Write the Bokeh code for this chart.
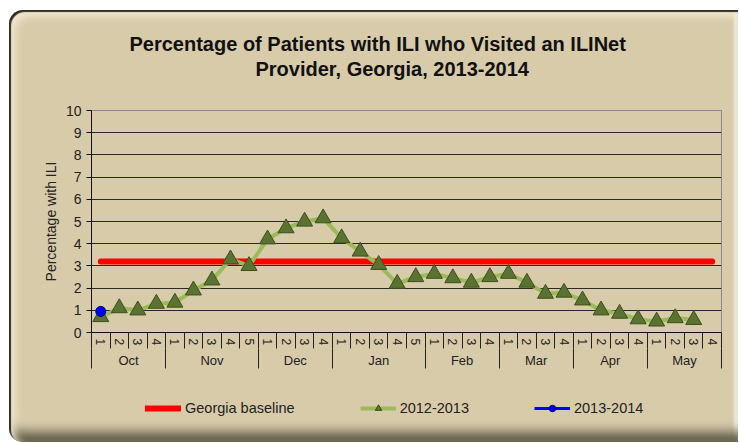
from bokeh.plotting import figure
from bokeh.layouts import column
from bokeh.models import (Range1d, LinearAxis, FixedTicker, Legend,
                          LegendItem, ColumnDataSource, Title)
from bokeh.embed import file_html
from bokeh.resources import INLINE

# ---------------- data ----------------
months = ["Oct", "Nov", "Dec", "Jan", "Feb", "Mar", "Apr", "May"]
weeks_per_month = [4, 5, 4, 5, 4, 4, 4, 4]
ili_2012_2013 = [0.7, 1.1, 1.0, 1.3,
                 1.35, 1.9, 2.35, 3.3, 3.0,
                 4.2, 4.7, 5.0, 5.15,
                 4.25, 3.65, 3.05, 2.2, 2.5,
                 2.65, 2.45, 2.25, 2.5,
                 2.65, 2.25, 1.75, 1.8,
                 1.45, 1.0, 0.85, 0.6,
                 0.5, 0.65, 0.57]
ili_2013_2014 = [0.95]
georgia_baseline = 3.2
y_ticks = list(range(0, 11))
title_lines = ["Percentage of Patients with ILI who Visited an ILINet",
               "Provider, Georgia, 2013-2014"]
series_names = ["Georgia baseline", "2012-2013", "2013-2014"]

FONT = "Liberation Sans"
TAN = "#D8CBAA"
RED, GREEN, MARKER, MARKER_LINE, BLUE = "#FF0000", "#9BBB59", "#5B7330", "#3D4F1E", "#0000FF"

# week categories (month, week) -> index positions on the category scale
factors = [(m, str(w)) for m, n in zip(months, weeks_per_month) for w in range(1, n + 1)]
n_f = len(factors)
week_centers = [i + 0.5 for i in range(n_f)]
week_bounds = list(range(n_f + 1))

p = figure(frame_width=630, frame_height=222, x_range=Range1d(0, n_f), y_range=Range1d(0, 10),
           x_axis_location=None, output_backend="svg", toolbar_location=None,
           min_border_left=82, min_border_right=17, min_border_top=100,
           min_border_bottom=40)

p.border_fill_color = None
p.background_fill_color = None
p.outline_line_color = "#8a8a8a"
p.outline_line_width = 1
p.xgrid.visible = False

# title (two centred lines) + spacer above the frame
p.title.text = title_lines[0]
p.title.align = "left"
p.title.offset = 38
p.title.text_font = FONT
p.title.text_font_size = "20px"
p.title.text_font_style = "bold"
p.title.text_color = "#111111"
p.title.standoff = 0
t2 = Title(text=title_lines[1], align="left", offset=164, text_font=FONT,
           text_font_size="20px", text_font_style="bold", text_color="#111111",
           standoff=2)
spacer = Title(text=" ", text_font_size="1px", standoff=27)
p.add_layout(spacer, "above")
p.add_layout(t2, "above")

# y axis
yax = p.yaxis[0]
yax.ticker = FixedTicker(ticks=y_ticks)
yax.axis_label = "Percentage with ILI"
yax.axis_label_text_font = FONT
yax.axis_label_text_font_size = "14px"
yax.axis_label_text_font_style = "normal"
yax.axis_label_text_color = "#222222"
yax.axis_label_standoff = 4
yax.major_label_text_font = FONT
yax.major_label_text_font_size = "14px"
yax.major_label_text_color = "#222222"
yax.major_label_standoff = 5
yax.major_tick_out = 5
yax.major_tick_in = 0
yax.minor_tick_line_color = None
yax.axis_line_color = "#111111"
yax.major_tick_line_color = "#111111"

p.ygrid.grid_line_color = "#2a2a2a"
p.ygrid.grid_line_width = 1
p.ygrid.ticker = FixedTicker(ticks=y_ticks)

# x axes (weeks + months)
week_labels = {c: f[1] for c, f in zip(week_centers, factors)}

month_bounds = [0]
for n in weeks_per_month:
    month_bounds.append(month_bounds[-1] + n)
month_centers = [(a + b) / 2 for a, b in zip(month_bounds[:-1], month_bounds[1:])]
month_labels = {c: m for c, m in zip(month_centers, months)}

ax_w = LinearAxis(ticker=FixedTicker(ticks=week_centers, minor_ticks=week_bounds),
                  major_label_overrides=week_labels)
ax_w.major_tick_line_color = None
ax_w.major_tick_out = 0
ax_w.major_tick_in = 0
ax_w.minor_tick_out = 16
ax_w.minor_tick_in = 0
ax_w.minor_tick_line_color = "#222222"
ax_w.axis_line_color = "#111111"
ax_w.major_label_orientation = "vertical"
ax_w.major_label_standoff = -10
ax_w.major_label_text_font = FONT
ax_w.major_label_text_font_size = "12px"
ax_w.major_label_text_color = "#222222"
p.add_layout(ax_w, "below")

ax_m = LinearAxis(ticker=FixedTicker(ticks=month_centers, minor_ticks=month_bounds),
                  major_label_overrides=month_labels)
ax_m.major_tick_line_color = None
ax_m.major_tick_out = 0
ax_m.major_tick_in = 0
ax_m.minor_tick_out = 20
ax_m.minor_tick_in = 0
ax_m.minor_tick_line_color = "#222222"
ax_m.axis_line_color = None
ax_m.major_label_standoff = -16
ax_m.major_label_text_font = FONT
ax_m.major_label_text_font_size = "13px"
ax_m.major_label_text_color = "#222222"
p.add_layout(ax_m, "below")

# series
src_base = ColumnDataSource(dict(x=week_centers, y=[georgia_baseline] * n_f))
src_a = ColumnDataSource(dict(x=week_centers[:len(ili_2012_2013)], y=ili_2012_2013))
src_b = ColumnDataSource(dict(x=week_centers[:len(ili_2013_2014)], y=ili_2013_2014))

p.line("x", "y", source=src_base, line_color=RED, line_width=6, line_cap="round")
p.line("x", "y", source=src_a, line_color=GREEN, line_width=4)
p.scatter("x", "y", source=src_a, marker="triangle", size=16,
          fill_color=MARKER, line_color=MARKER_LINE, line_width=1)
p.line("x", "y", source=src_b, line_color=BLUE, line_width=3)
p.scatter("x", "y", source=src_b, marker="circle", size=10,
          fill_color=BLUE, line_color="#00007A")

# legend strip: a small figure whose view range lies outside the data,
# so its renderers only show up as legend glyphs
leg = figure(width=729, height=70, x_axis_location=None, y_axis_location=None,
             x_range=Range1d(-2, -1), y_range=Range1d(-2, -1),
             output_backend="svg", toolbar_location=None, min_border=0)
leg.title.visible = False
leg.border_fill_color = None
leg.background_fill_color = None
leg.outline_line_color = None
leg.grid.visible = False
l_base = leg.line("x", "y", source=src_base, line_color=RED, line_width=6, line_cap="round")
l_a_line = leg.line("x", "y", source=src_a, line_color=GREEN, line_width=4)
l_a_pts = leg.scatter("x", "y", source=src_a, marker="triangle", size=12,
                      fill_color=MARKER, line_color=MARKER_LINE)
l_b_line = leg.line("x", "y", source=src_b, line_color=BLUE, line_width=3)
l_b_pts = leg.scatter("x", "y", source=src_b, marker="circle", size=9,
                      fill_color=BLUE, line_color="#00007A")

legend = Legend(items=[
    LegendItem(label=series_names[0], renderers=[l_base]),
    LegendItem(label=series_names[1], renderers=[l_a_line, l_a_pts]),
    LegendItem(label=series_names[2], renderers=[l_b_line, l_b_pts]),
], orientation="horizontal", location=(54, 26), padding=0, margin=0,
    spacing=65, glyph_width=36, glyph_height=16, label_standoff=4,
    background_fill_alpha=0, border_line_alpha=0,
    label_text_font=FONT, label_text_font_size="14.5px", label_text_color="#222222")
leg.add_layout(legend, "center")

layout = column(p, leg, spacing=0)
layout.styles = {
    "margin-left": "9px",
    "margin-top": "10px",
    "background-color": TAN,
    "border-radius": "14px 0 0 14px",
    "box-shadow": "inset 2px 2px 1px #2e2e26, inset 6px 6px 8px #f4ecd2, inset 0 -16px 12px -6px #5d5c48, inset -4px 0 3px #fbf6e6",
}

open("out.html", "w").write(file_html(layout, INLINE))
